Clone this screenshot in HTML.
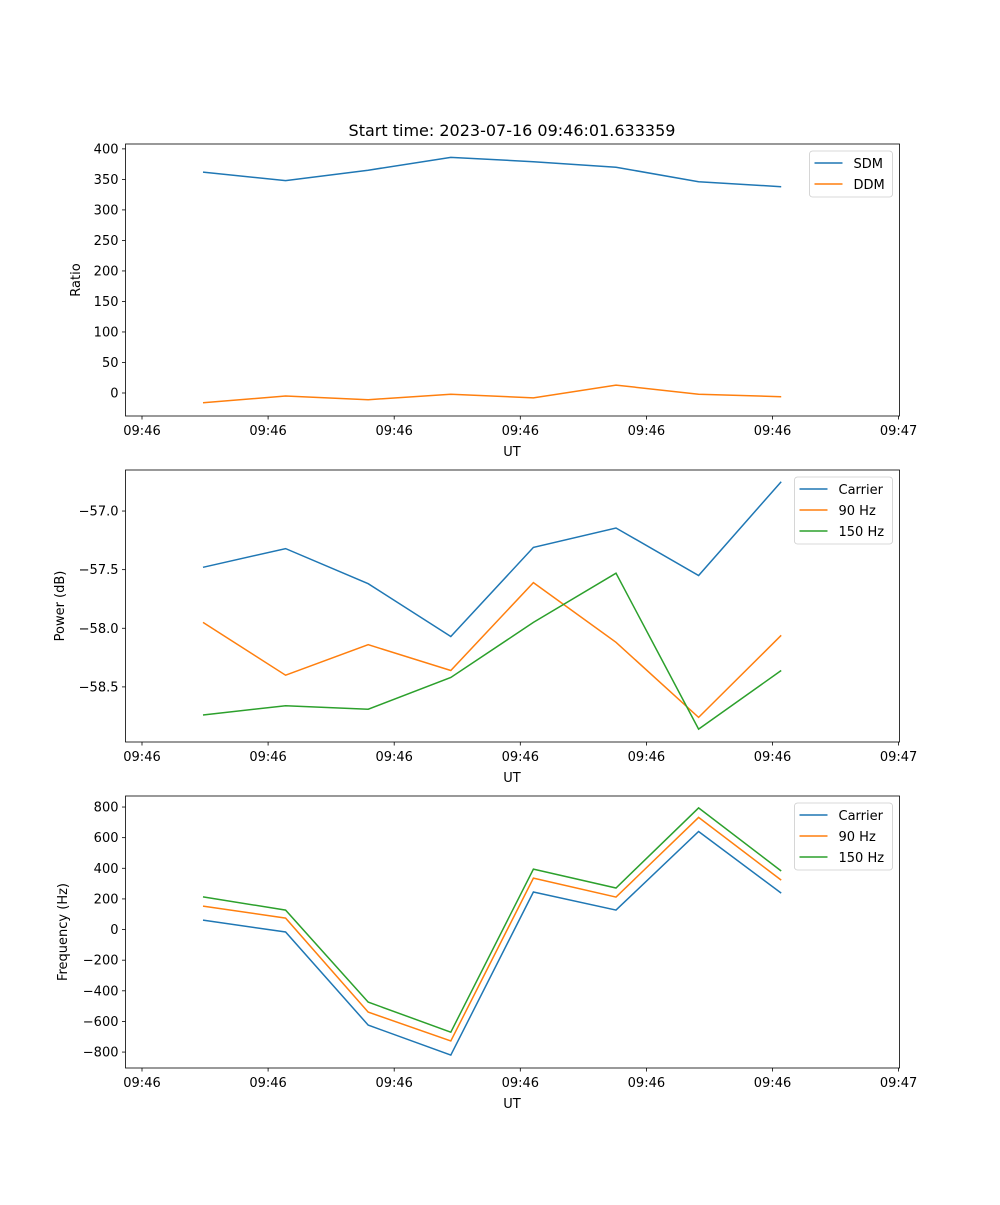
<!DOCTYPE html>
<html><head><meta charset="utf-8"><style>
body{margin:0;background:#fff}
svg text{font-family:"DejaVu Sans","Liberation Sans",sans-serif;fill:#000}
</style></head><body>
<svg id="fig" width="1000" height="1200" xmlns="http://www.w3.org/2000/svg">
<rect width="1000" height="1200" fill="#fff"/>
<text x="512" y="136" font-size="16" text-anchor="middle">Start time: 2023-07-16 09:46:01.633359</text>
</svg>
<script>
const xTickLabels = ["09:46","09:46","09:46","09:46","09:46","09:46","09:47"];
const sampleIndex = [0,1,2,3,4,5,6,7];
const sdm = [362,348,365,386,379,370,346,338];
const ddm = [-16,-5,-11,-2,-8,13,-2,-6];
const pwrCarrier = [-57.48,-57.32,-57.62,-58.07,-57.31,-57.145,-57.55,-56.75];
const pwr90 = [-57.95,-58.40,-58.14,-58.36,-57.61,-58.12,-58.76,-58.06];
const pwr150 = [-58.74,-58.66,-58.69,-58.42,-57.95,-57.53,-58.86,-58.36];
const frqCarrier = [62,-16,-624,-820,245,127,640,238];
const frq90 = [153,75,-539,-728,336,212,732,323];
const frq150 = [213,127,-474,-670,395,271,794,382];
const ratioTicks = [0,50,100,150,200,250,300,350,400];
const powerTicks = [-58.5,-58.0,-57.5,-57.0];
const freqTicks = [-800,-600,-400,-200,0,200,400,600,800];

const NS="http://www.w3.org/2000/svg";
const svg=document.getElementById('fig');
function el(tag,attrs,parent){const e=document.createElementNS(NS,tag);for(const k in attrs)e.setAttribute(k,attrs[k]);(parent||svg).appendChild(e);return e;}
const L=125.5,R=899.5;
function xTick(i){return 142+i*126.1;}
function xData(i){return 203+i*82.6;}
const C={blue:"#1f77b4",orange:"#ff7f0e",green:"#2ca02c"};

function panel(name,top,bot,ymin,ymax,ticks,fmt,ylabel,series,legendW){
  const g=el('g',{},svg);
  
  
  const y=v=>bot-(v-ymin)/(ymax-ymin)*(bot-top);
  series.forEach(s=>{
    const pts=s.data.map((v,i)=>xData(sampleIndex[i]).toFixed(1)+','+y(v).toFixed(1)).join(' ');
    const p=el('polyline',{points:pts,fill:'none',stroke:s.color,'stroke-width':1.5},g);
    
    
  });
  el('rect',{x:L,y:top,width:R-L,height:bot-top,fill:'none',stroke:'#000','stroke-width':0.8},g);
  ticks.forEach(t=>{
    const yy=y(t);
    el('line',{x1:L-3.5,x2:L,y1:yy,y2:yy,stroke:'#000','stroke-width':0.8},g);
    const tx=el('text',{x:L-7,y:yy+4.5,'font-size':13,'text-anchor':'end'},g);
    tx.textContent=fmt(t);
    
    
  });
  xTickLabels.forEach((lab,i)=>{
    const xx=xTick(i);
    el('line',{x1:xx,x2:xx,y1:bot,y2:bot+3.5,stroke:'#000','stroke-width':0.8},g);
    const tx=el('text',{x:xx,y:bot+19,'font-size':13,'text-anchor':'middle'},g);
    tx.textContent=lab;
    
    
  });
  const xl=el('text',{x:512,y:bot+40,'font-size':13,'text-anchor':'middle'},g);
  xl.textContent='UT';
  
  
  const ylx=ylabel.x, ylyy=(top+bot)/2;
  const yl=el('text',{x:ylx,y:ylyy,'font-size':13,'text-anchor':'middle',transform:`rotate(-90 ${ylx} ${ylyy})`},g);
  yl.textContent=ylabel.t;
  
  
  const lx=R-7-legendW, ly=top+7, lh=4+series.length*21;
  const lg=el('g',{},g);
  
  
  el('rect',{x:lx,y:ly,width:legendW,height:lh,rx:3,fill:'#fff','fill-opacity':0.8,stroke:'#ccc','stroke-width':0.8},lg);
  series.forEach((s,i)=>{
    const yy=ly+12+i*21;
    el('line',{x1:lx+5,x2:lx+33,y1:yy,y2:yy,stroke:s.color,'stroke-width':1.5},lg);
    const t=el('text',{x:lx+44,y:yy+5,'font-size':13},lg);
    t.textContent=s.label;
    
    
  });
}
panel('ratio',144,416,-37.7,408,ratioTicks,v=>String(v),{x:80,t:'Ratio'},
  [{key:'sdm',label:'SDM',data:sdm,color:C.blue},{key:'ddm',label:'DDM',data:ddm,color:C.orange}],83);
panel('power',470,742,-58.97,-56.65,powerTicks,v=>'\u2212'+Math.abs(v).toFixed(1),{x:64,t:'Power (dB)'},
  [{key:'carrier',label:'Carrier',data:pwrCarrier,color:C.blue},{key:'90hz',label:'90 Hz',data:pwr90,color:C.orange},{key:'150hz',label:'150 Hz',data:pwr150,color:C.green}],98);
panel('frequency',796,1068,-904,872,freqTicks,v=>(v<0?'\u2212':'')+Math.abs(v),{x:67,t:'Frequency (Hz)'},
  [{key:'carrier',label:'Carrier',data:frqCarrier,color:C.blue},{key:'90hz',label:'90 Hz',data:frq90,color:C.orange},{key:'150hz',label:'150 Hz',data:frq150,color:C.green}],98);
</script>
</body></html>
